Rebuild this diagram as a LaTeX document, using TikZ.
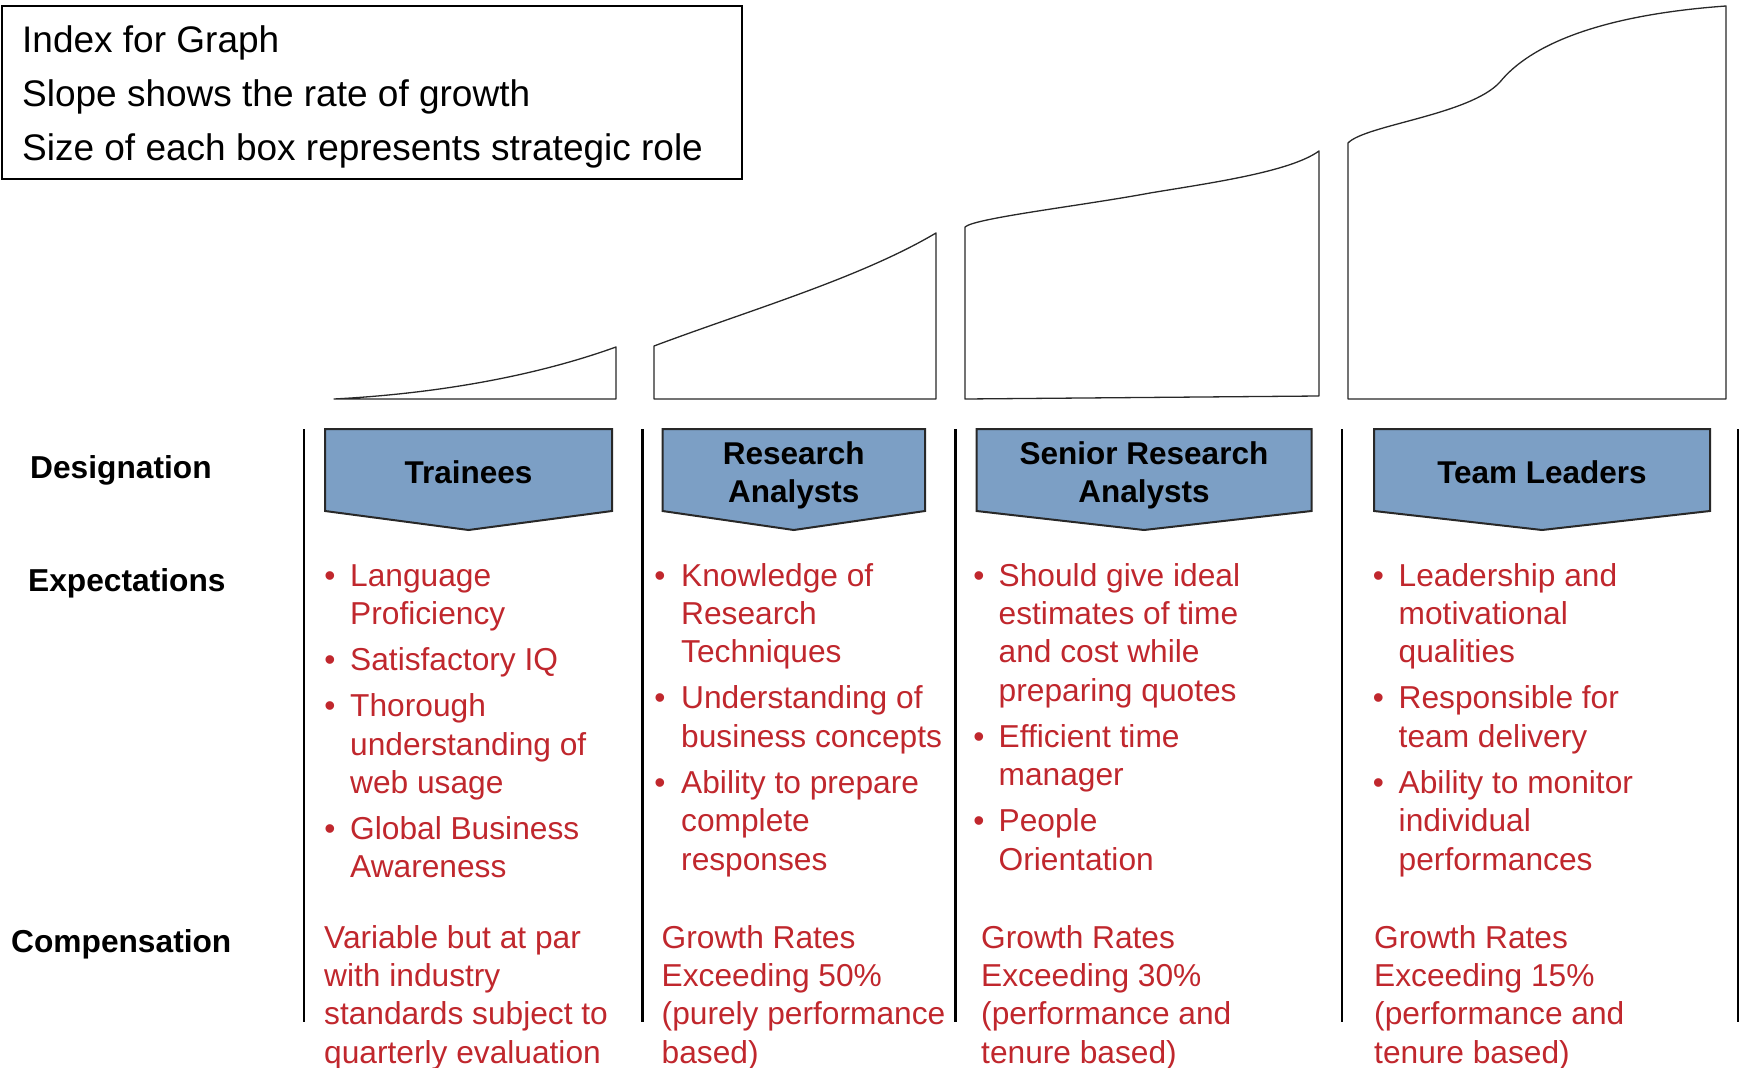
\documentclass[tikz,border=0pt]{standalone}
\usepackage{fontspec}
\setmainfont{Liberation Sans}
\definecolor{hdrblue}{RGB}{124,159,197}
\definecolor{txtred}{RGB}{192,39,45}
\definecolor{edgegray}{RGB}{40,40,40}
\newcommand\lnsl[1]{\begin{tabular}[t]{@{}l@{}}#1\end{tabular}}
\newcommand\lnsc[1]{\begin{tabular}[t]{@{}c@{}}#1\end{tabular}}
\begin{document}
\begin{tikzpicture}[x=1pt,y=-1pt,
  rowlbl/.style={anchor=base west,inner sep=0,font=\fontsize{31.7}{38.4}\selectfont\bfseries},
  hdrtxt/.style={anchor=base,inner sep=0,font=\fontsize{31.5}{38}\selectfont\bfseries},
  hdrbox/.style={draw=edgegray,line width=2pt,fill=hdrblue,line join=miter},
  itemtxt/.style={anchor=base west,inner sep=0,text=txtred,font=\fontsize{31.7}{38.4}\selectfont},
  bul/.style={anchor=base,inner sep=0,text=txtred,font=\fontsize{31.7}{38.4}\selectfont},
  legtxt/.style={anchor=base west,inner sep=0,font=\fontsize{37}{54}\selectfont},
  growth/.style={draw=edgegray,line width=1.3pt,line join=round},
  divider/.style={draw=black,line width=2.5pt}]
\useasboundingbox (0,0) rectangle (1746,1068);

% legend
\draw[line width=2pt] (2,5.5) rectangle (741.5,179);
\node[legtxt] (leg1) at (22,52) {Index for Graph};
\node[legtxt] (leg2) at (22,106.5) {Slope shows the rate of growth};
\node[legtxt] (leg3) at (22,160.5) {Size of each box represents strategic role};

% growth shapes
\draw[growth] (334,399) .. controls (430,394) and (530,378) .. (616,347) -- (616,399) -- cycle;
\draw[growth] (654,399) -- (654,346) .. controls (750,310) and (860,278) .. (936,233) -- (936,399) -- cycle;
\draw[growth] (965,399) -- (965,227) .. controls (975,218) and (1080,206) .. (1150,193)
   .. controls (1210,183) and (1290,172) .. (1319,151) -- (1319,396) -- cycle;
\draw[growth] (1348,399) -- (1348,143) .. controls (1365,125) and (1470,115) .. (1500,82)
   .. controls (1530,45) and (1600,15) .. (1726,6) -- (1726,399) -- cycle;

% dividers
\foreach \xx/\nm in {304/d1,642.5/d2,955.5/d3,1342/d4,1738/d5}{
  \coordinate (\nm t) at (\xx,429);
  \coordinate (\nm b) at (\xx,1022);
  \draw[divider] (\nm t) -- (\nm b);
}

% header boxes
\draw[hdrbox] (325,429) -- (612,429) -- (612,511) -- (468.5,530) -- (325,511) -- cycle;
\draw[hdrbox] (662.5,429) -- (925,429) -- (925,511) -- (793.75,530) -- (662.5,511) -- cycle;
\draw[hdrbox] (976.5,429) -- (1311.5,429) -- (1311.5,511) -- (1144,530) -- (976.5,511) -- cycle;
\draw[hdrbox] (1374,429) -- (1710,429) -- (1710,511) -- (1542,530) -- (1374,511) -- cycle;
\node[hdrtxt] (h1) at (468.5,483.5) {Trainees};
\node[hdrtxt] (h2) at (793.75,464.7) {\lnsc{Research\\Analysts}};
\node[hdrtxt] (h3) at (1144,464.7) {\lnsc{Senior Research\\Analysts}};
\node[hdrtxt] (h4) at (1542,483.5) {Team Leaders};

% row labels
\node[rowlbl] (rdes) at (30,478) {Designation};
\node[rowlbl] (rexp) at (28,591.5) {Expectations};
\node[rowlbl] (rcomp) at (11,952) {Compensation};

% column 1
\node[bul] (b11) at (330,586) {•};
\node[itemtxt] (i11) at (350,586) {\lnsl{Language\\Proficiency}};
\node[bul] (b12) at (330,670.5) {•};
\node[itemtxt] (i12) at (350,670.5) {\lnsl{Satisfactory IQ}};
\node[bul] (b13) at (330,716.6) {•};
\node[itemtxt] (i13) at (350,716.6) {\lnsl{Thorough\\understanding of\\web usage}};
\node[bul] (b14) at (330,839.5) {•};
\node[itemtxt] (i14) at (350,839.5) {\lnsl{Global Business\\Awareness}};

% column 2
\node[bul] (b21) at (660,586) {•};
\node[itemtxt] (i21) at (681,586) {\lnsl{Knowledge of\\Research\\Techniques}};
\node[bul] (b22) at (660,708.9) {•};
\node[itemtxt] (i22) at (681,708.9) {\lnsl{Understanding of\\business concepts}};
\node[bul] (b23) at (660,793.4) {•};
\node[itemtxt] (i23) at (681,793.4) {\lnsl{Ability to prepare\\complete\\responses}};

% column 3
\node[bul] (b31) at (979,586) {•};
\node[itemtxt] (i31) at (998.5,586) {\lnsl{Should give ideal\\estimates of time\\and cost while\\preparing quotes}};
\node[bul] (b32) at (979,747.3) {•};
\node[itemtxt] (i32) at (998.5,747.3) {\lnsl{Efficient time\\manager}};
\node[bul] (b33) at (979,831.8) {•};
\node[itemtxt] (i33) at (998.5,831.8) {\lnsl{People\\Orientation}};

% column 4
\node[bul] (b41) at (1378.5,586) {•};
\node[itemtxt] (i41) at (1398.5,586) {\lnsl{Leadership and\\motivational\\qualities}};
\node[bul] (b42) at (1378.5,708.9) {•};
\node[itemtxt] (i42) at (1398.5,708.9) {\lnsl{Responsible for\\team delivery}};
\node[bul] (b43) at (1378.5,793.4) {•};
\node[itemtxt] (i43) at (1398.5,793.4) {\lnsl{Ability to monitor\\individual\\performances}};

% compensation
\node[itemtxt] (c1) at (324,948) {\lnsl{Variable but at par\\with industry\\standards subject to\\quarterly evaluation}};
\node[itemtxt] (c2) at (661.5,948) {\lnsl{Growth Rates\\Exceeding 50\%\\(purely performance\\based)}};
\node[itemtxt] (c3) at (981,948) {\lnsl{Growth Rates\\Exceeding 30\%\\(performance and\\tenure based)}};
\node[itemtxt] (c4) at (1374,948) {\lnsl{Growth Rates\\Exceeding 15\%\\(performance and\\tenure based)}};
\end{tikzpicture}
\end{document}
